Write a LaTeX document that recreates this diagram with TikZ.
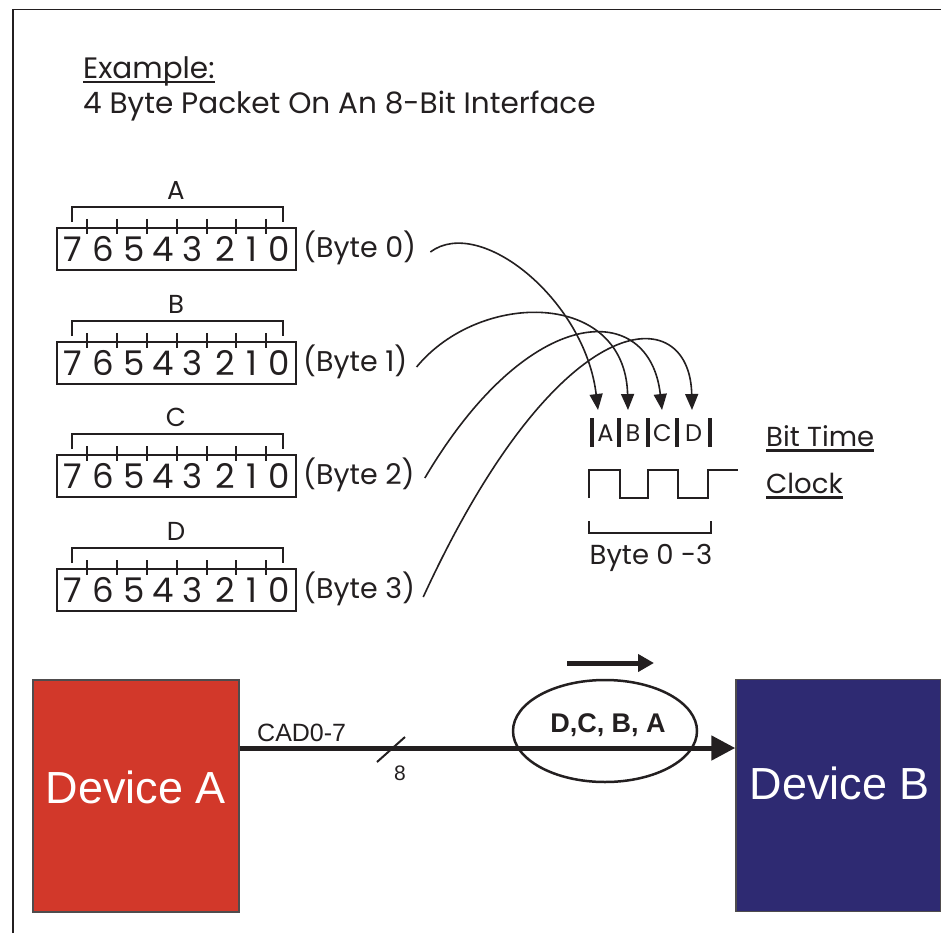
\documentclass[tikz,border=0pt]{standalone}
\usepackage{fontspec}
\newfontfamily\gothic{Poppins}
\newfontfamily\arial{Liberation Sans}
\usetikzlibrary{arrows.meta,shapes.geometric,calc}
\definecolor{ink}{HTML}{231F20}
\definecolor{devred}{HTML}{D2382A}
\definecolor{devblue}{HTML}{2E2A72}
\tikzset{
  gtext/.style={inner sep=0pt, text=ink, font=\gothic\fontsize{26}{26}\selectfont},
  ttext/.style={inner sep=0pt, text=ink, font=\gothic\fontsize{29.5}{29.5}\selectfont},
  digit/.style={inner sep=0pt, text=ink, font=\gothic\fontsize{34}{34}\selectfont},
  bytelab/.style={inner sep=0pt, text=ink, anchor=west, font=\gothic\fontsize{28.5}{28.5}\selectfont},
  bitlet/.style={inner sep=0pt, text=ink, font=\gothic\fontsize{24}{24}\selectfont},
  bytebox/.style={draw=ink, line width=2, minimum width=239, minimum height=42, inner sep=0pt},
  conn/.style={draw=ink, line width=1.6, -{Triangle[length=16pt,width=13pt]}},
  devbox/.style={draw=ink!80, line width=1.5, minimum width=206, minimum height=232, inner sep=0pt},
  devtext/.style={inner sep=0pt, text=white, font=\arial\fontsize{45}{45}\selectfont},
  atext/.style={inner sep=0pt, text=ink, font=\arial\fontsize{25}{25}\selectfont},
}
\begin{document}
\begin{tikzpicture}[x=1pt,y=-1pt]
\useasboundingbox (0,0) rectangle (941,933);
% frame
\draw[ink, line width=1.6] (12.7,933) -- (12.7,9.5) -- (941,9.5);
% title
\node[ttext, anchor=base west] (ex) at (83,79) {Example:};
\draw[ink, line width=2] ($(ex.base west)+(0,3.5)$) -- ($(ex.base east)+(0,3.5)$);
\node[ttext, anchor=base west] (title) at (83,114) {4 Byte Packet On An 8-Bit Interface};
% byte rows
\foreach \L/\n/\y in {A/0/228, B/1/342, C/2/455, D/3/569}{
  \node[bytebox] (box\L) at (176.5,\y+21) {};
  \draw[ink, line width=1.8] (72,\y-6) -- (72,\y-21) -- (283,\y-21) -- (283,\y-6);
  \foreach \t in {87,117,147,177,207,236,266}
    \draw[ink, line width=1.5] (\t,\y-9) -- (\t,\y+6);
  \foreach \d/\dx in {7/73,6/103,5/134,4/163,3/193,2/225,1/252,0/279}
    \node[digit] (dig\L\d) at (\dx,\y+21) {\d};
  \node[gtext] (lab\L) at (176,\y-38) {\L};
  \node[bytelab] (b\n) at (303,\y+20) {(Byte \n)};
}
% bit time
\foreach \x in {592,619,648,677,710}
  \draw[ink, line width=3.5] (\x,418) -- (\x,447);
\node[bitlet] (bA) at (605.5,433) {A};
\node[bitlet] (bB) at (633,433) {B};
\node[bitlet] (bC) at (662.5,433) {C};
\node[bitlet] (bD) at (693.5,433) {D};
\coordinate (tA) at (598,410);
\coordinate (tB) at (628,410);
\coordinate (tC) at (662,410);
\coordinate (tD) at (692,410);
% arrows
\draw[conn] ($(b0.east)+(14,4)$) .. controls (480,215) and (585,300) .. (tA);
\draw[conn] ($(b1.east)+(9,5)$) .. controls (480,290) and (625,290) .. (tB);
\draw[conn] ($(b2.east)+(10,3)$) .. controls (530,300) and (650,300) .. (tC);
\draw[conn] ($(b3.east)+(8,8)$) .. controls (560,300) and (690,300) .. (tD);
% clock
\draw[ink, line width=2] (589,498) -- (589,470) -- (620,470) -- (620,498) -- (648,498) -- (648,470)
  -- (678,470) -- (678,498) -- (708,498) -- (708,470) -- (738,470);
\draw[ink, line width=2] (589,521) -- (589,533) -- (711,533) -- (711,521);
\node[gtext, font=\gothic\fontsize{27.5}{27.5}\selectfont] (bytes) at (651,558) {Byte 0 -3};
\node[gtext, anchor=base west, font=\gothic\fontsize{27.5}{27.5}\selectfont] (bittime) at (766,446) {Bit Time};
\draw[ink, line width=3] ($(bittime.base west)+(0,4.5)$) -- ($(bittime.base east)+(0,4.5)$);
\node[gtext, anchor=base west, font=\gothic\fontsize{27.5}{27.5}\selectfont] (clock) at (766,493) {Clock};
\draw[ink, line width=3] ($(clock.base west)+(0,4.5)$) -- ($(clock.base east)+(0,4.5)$);
% devices
\node[devbox, fill=devred] (devA) at (136,796) {};
\node[devtext] (devAt) at (136,787) {Device A};
\node[devbox, fill=devblue, minimum width=205] (devB) at (838.5,795.5) {};
\node[devtext] (devBt) at (840,783) {Device B};
% bus
\coordinate (busY) at (0,748);
\draw[ink, line width=5, -{Triangle[length=24pt,width=24pt]}] (devA.east |- busY) -- (devB.west |- busY);
\node[atext, anchor=base west] (cad) at (257,741) {CAD0-7};
\coordinate (sl1) at (377,762);
\coordinate (sl2) at (405,737);
\draw[ink, line width=2] (sl1) -- (sl2);
\node[atext, font=\arial\fontsize{21}{21}\selectfont] (eight) at (400,773) {8};
\node[draw=ink, ellipse, line width=2.5, minimum width=184, minimum height=102, inner sep=0pt] (pkt) at (605,731) {};
\node[atext, font=\arial\bfseries\fontsize{27}{27}\selectfont] (pktt) at (608,725) {D,C, B, A};
\coordinate (dirS) at (567,663);
\coordinate (dirE) at (654,663);
\draw[ink, line width=5, -{Triangle[length=16pt,width=17pt]}] (dirS) -- (dirE);
\end{tikzpicture}
\end{document}
